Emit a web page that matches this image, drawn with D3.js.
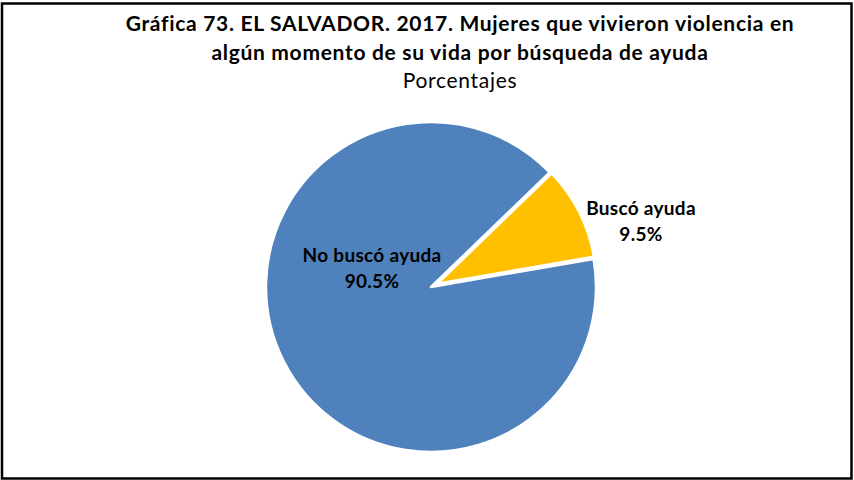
<!DOCTYPE html>
<html>
<head>
<meta charset="utf-8">
<script src="https://cdn.jsdelivr.net/npm/d3@7"></script>
<style>
  html, body { margin: 0; padding: 0; background: #fff; }
  svg { display: block; }
  text { font-family: Lato, "Open Sans", sans-serif; fill: #000; }
</style>
</head>
<body>
<svg id="chart" width="854" height="480"></svg>
<script>
const titleLines = ["Gráfica 73. EL SALVADOR. 2017. Mujeres que vivieron violencia en",
                    "algún momento de su vida por búsqueda de ayuda"];
const subtitle = "Porcentajes";
const categories = ["No buscó ayuda", "Buscó ayuda"];
const values = [90.5, 9.5];
const colors = ["#4F81BD", "#FFC000"];

const svg = d3.select("#chart");
const W = 854, H = 480;

svg.append("rect").attr("x", 2).attr("y", 3.5).attr("width", W - 4.5).attr("height", H - 5)
  .attr("fill", "#fff").attr("stroke", "#000").attr("stroke-width", 2.5);

const cx = 460;
svg.selectAll("text.title").data(titleLines).join("text")
  .attr("class", "title")
  .attr("x", cx).attr("y", (d, i) => 31 + i * 29)
  .attr("text-anchor", "middle")
  .style("font-size", "21px").style("font-weight", "bold").style("letter-spacing", "0.7px")
  .text(d => d);
svg.append("text").attr("x", cx).attr("y", 88).attr("text-anchor", "middle")
  .style("font-size", "21px").style("letter-spacing", "0.7px").text(subtitle);

const center = [431, 287];
const R = 165;
const start = 80.2 * Math.PI / 180;
const pie = d3.pie().sort(null).startAngle(start).endAngle(start + 2 * Math.PI);
const arcs = pie(values);
const explode = [0, 7];
const radii = [R, 159];

const g = svg.append("g").attr("transform", `translate(${center[0]},${center[1]})`);
g.selectAll("path").data(arcs).join("path")
  .attr("d", (d, i) => d3.arc().innerRadius(0).outerRadius(radii[i])(d))
  .attr("transform", (d, i) => {
    const a = (d.startAngle + d.endAngle) / 2;
    return `translate(${Math.sin(a) * explode[i]},${-Math.cos(a) * explode[i]})`;
  })
  .attr("fill", (d, i) => colors[i])
  .attr("stroke", "#fff").attr("stroke-width", 2.5).attr("stroke-linejoin", "round");

// label offsets relative to pie centre
const labelOffsets = [[-59, -25], [210, -72]];
const lg = g.selectAll("g.lab").data(arcs).join("g").attr("class", "lab")
  .attr("transform", (d, i) => `translate(${labelOffsets[i][0]},${labelOffsets[i][1]})`);
lg.append("text").attr("text-anchor", "middle").attr("y", 0)
  .style("font-size", "19px").style("font-weight", "bold").style("letter-spacing", "0.3px")
  .text((d, i) => categories[i]);
lg.append("text").attr("text-anchor", "middle").attr("y", 26)
  .style("font-size", "19px").style("font-weight", "bold").style("letter-spacing", "0.3px")
  .text((d, i) => d3.format(".1f")(values[i]) + "%");
</script>
</body>
</html>
